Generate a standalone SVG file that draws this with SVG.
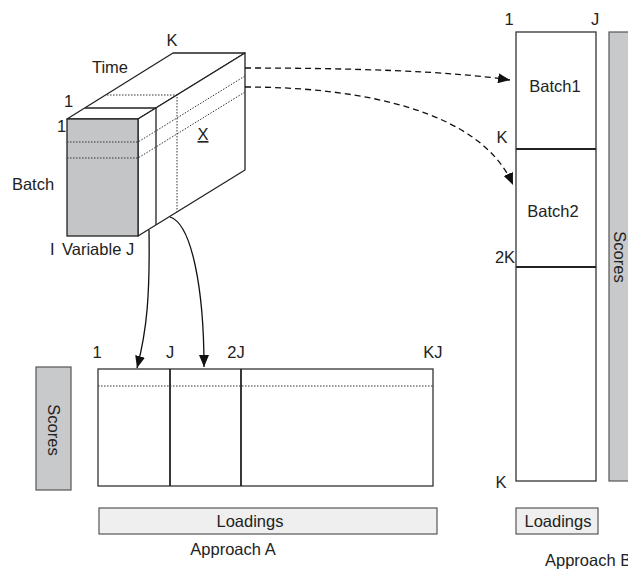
<svg xmlns="http://www.w3.org/2000/svg" width="628" height="569" viewBox="0 0 628 569">
  <style>
    text { font-family: "Liberation Sans", Arial, sans-serif; font-size: 16.5px; fill: #222; }
    .mid { text-anchor: middle; }
    .face { fill: #fff; stroke: #222; stroke-width: 1.3; stroke-linejoin: round; }
    .shaded { fill: #c4c5c7; stroke: #222; stroke-width: 1.3; }
    .line { fill: none; stroke: #222; stroke-width: 1.3; }
    .thick { fill: none; stroke: #222; stroke-width: 1.8; }
    .dot { fill: none; stroke: #333; stroke-width: 1; stroke-dasharray: 1.5 1.5; }
    .box { fill: #fff; stroke: #333; stroke-width: 1.3; }
    .panel { fill: #c8c9cb; stroke: #555; stroke-width: 1.2; }
    .bar { fill: #eeefee; stroke: #555; stroke-width: 1.2; }
    .arrow { fill: none; stroke: #111; stroke-width: 1.3; marker-end: url(#head); }
    .dashed { stroke-dasharray: 6 4; }
  </style>
  <defs>
    <marker id="head" markerUnits="userSpaceOnUse" markerWidth="13" markerHeight="10" refX="12" refY="5" orient="auto">
      <path d="M0,0 L12,5 L0,10 Z" fill="#111"/>
    </marker>
  </defs>

  <!-- three-way data cube: batch x variable x time -->
  <g id="cube">
    <polygon class="face" points="67,119 173,53 245,53 138,119"/>
    <polygon class="face" points="138,119 245,53 245,170 138,236"/>
    <rect class="shaded" x="67" y="119" width="71" height="117"/>
    <!-- first time slice -->
    <polyline class="line" points="85,108 156,108 156,225"/>
    <!-- later time slice -->
    <polyline class="dot" points="107,95 177,95 177,212"/>
    <!-- one batch, across time -->
    <polyline class="dot" points="67,142 138,142 245,76"/>
    <polyline class="dot" points="67,158 138,158 245,92"/>
    <text class="mid" x="172" y="46">K</text>
    <text class="mid" x="110" y="73">Time</text>
    <text x="64" y="107">1</text>
    <text x="57" y="132">1</text>
    <text class="mid" x="33" y="190">Batch</text>
    <text x="50" y="255">I</text>
    <text x="62" y="255">Variable J</text>
    <text class="mid" x="203" y="140" text-decoration="underline">X</text>
  </g>

  <!-- approach A: batch-wise unfolding -->
  <g id="unfolded-a">
    <rect class="box" x="98" y="369" width="335" height="117"/>
    <line class="thick" x1="170" y1="369" x2="170" y2="486"/>
    <line class="thick" x1="241" y1="369" x2="241" y2="486"/>
    <line class="dot" x1="98" y1="386" x2="433" y2="386"/>
    <text class="mid" x="97" y="358">1</text>
    <text class="mid" x="170" y="358">J</text>
    <text class="mid" x="236" y="358">2J</text>
    <text class="mid" x="433" y="358">KJ</text>
  </g>

  <g id="scores-a">
    <rect class="panel" x="36" y="367" width="35" height="123"/>
    <text class="mid" transform="translate(53.5,430) rotate(90)" dy="0.35em">Scores</text>
  </g>

  <g id="loadings-a">
    <rect class="bar" x="99" y="508" width="338" height="26"/>
    <text class="mid" x="250" y="527">Loadings</text>
  </g>

  <text id="label-a" class="mid" x="233" y="555">Approach A</text>

  <!-- approach B: variable-wise unfolding -->
  <g id="unfolded-b">
    <rect class="box" x="516" y="32" width="80" height="449"/>
    <line class="thick" x1="516" y1="149" x2="596" y2="149"/>
    <line class="thick" x1="516" y1="267" x2="596" y2="267"/>
    <text class="mid" x="509" y="25">1</text>
    <text class="mid" x="595" y="25">J</text>
    <text class="mid" x="555" y="92">Batch1</text>
    <text class="mid" x="553" y="217">Batch2</text>
    <text class="mid" x="502" y="143">K</text>
    <text class="mid" x="505" y="263">2K</text>
    <text class="mid" x="501" y="488">K</text>
  </g>

  <g id="scores-b">
    <rect class="panel" x="609" y="32" width="40" height="449"/>
    <text class="mid" transform="translate(620,257) rotate(90)" dy="0.35em">Scores</text>
  </g>

  <g id="loadings-b">
    <rect class="bar" x="516" y="508" width="82" height="26"/>
    <text class="mid" x="558" y="527">Loadings</text>
  </g>

  <text id="label-b" x="545" y="566">Approach B</text>

  <g id="connectors">
    <path class="arrow dashed" d="M245,68 C350,68 450,71 510,80"/>
    <path class="arrow dashed" d="M245,87 C365,87 482,112 513,185"/>
    <path class="arrow" d="M149,230 C150,295 147,330 137,368"/>
    <path class="arrow" d="M170,217 C192,224 204,290 204,367"/>
  </g>
</svg>
